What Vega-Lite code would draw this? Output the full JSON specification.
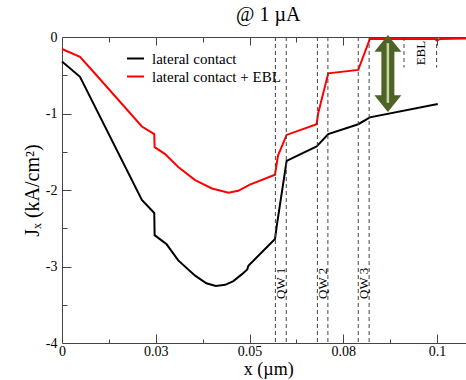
{
  "$schema": "https://vega.github.io/schema/vega-lite/v6.json",
  "width": 412.5,
  "height": 306,
  "autosize": "none",
  "padding": {"left": 62, "top": 37, "right": 0, "bottom": 37},
  "background": "white",
  "title": {"text": "@ 1 µA", "font": "Liberation Serif", "fontSize": 20, "fontWeight": "normal", "offset": 5, "anchor": "middle", "color": "#000"},
  "config": {
    "view": {"stroke": null},
    "font": "Liberation Serif",
    "axis": {"grid": false, "domainColor": "#444", "tickColor": "#444", "labelFont": "Liberation Serif", "labelFontSize": 14, "labelColor": "#000", "titleFont": "Liberation Serif", "titleFontSize": 20, "titleFontWeight": "normal", "titleColor": "#000", "labelOverlap": false}
  },
  "datasets": {
    "curves": [
      {"x": 0, "y": -0.32, "s": "lateral contact"},
      {"x": 0.0048, "y": -0.52, "s": "lateral contact"},
      {"x": 0.0213, "y": -2.13, "s": "lateral contact"},
      {"x": 0.0246, "y": -2.30, "s": "lateral contact"},
      {"x": 0.0247, "y": -2.59, "s": "lateral contact"},
      {"x": 0.0279, "y": -2.71, "s": "lateral contact"},
      {"x": 0.031, "y": -2.92, "s": "lateral contact"},
      {"x": 0.0355, "y": -3.12, "s": "lateral contact"},
      {"x": 0.0385, "y": -3.22, "s": "lateral contact"},
      {"x": 0.041, "y": -3.255, "s": "lateral contact"},
      {"x": 0.0435, "y": -3.24, "s": "lateral contact"},
      {"x": 0.0457, "y": -3.19, "s": "lateral contact"},
      {"x": 0.048, "y": -3.1, "s": "lateral contact"},
      {"x": 0.0494, "y": -3.04, "s": "lateral contact"},
      {"x": 0.0497, "y": -2.99, "s": "lateral contact"},
      {"x": 0.0568, "y": -2.64, "s": "lateral contact"},
      {"x": 0.0573, "y": -2.46, "s": "lateral contact"},
      {"x": 0.0599, "y": -1.62, "s": "lateral contact"},
      {"x": 0.0679, "y": -1.43, "s": "lateral contact"},
      {"x": 0.071, "y": -1.27, "s": "lateral contact"},
      {"x": 0.079, "y": -1.14, "s": "lateral contact"},
      {"x": 0.0821, "y": -1.05, "s": "lateral contact"},
      {"x": 0.1002, "y": -0.876, "s": "lateral contact"},
      {"x": 0, "y": -0.157, "s": "lateral contact + EBL"},
      {"x": 0.0048, "y": -0.26, "s": "lateral contact + EBL"},
      {"x": 0.0092, "y": -0.5, "s": "lateral contact + EBL"},
      {"x": 0.0213, "y": -1.17, "s": "lateral contact + EBL"},
      {"x": 0.0246, "y": -1.27, "s": "lateral contact + EBL"},
      {"x": 0.0247, "y": -1.44, "s": "lateral contact + EBL"},
      {"x": 0.0275, "y": -1.53, "s": "lateral contact + EBL"},
      {"x": 0.031, "y": -1.70, "s": "lateral contact + EBL"},
      {"x": 0.0355, "y": -1.87, "s": "lateral contact + EBL"},
      {"x": 0.040, "y": -1.98, "s": "lateral contact + EBL"},
      {"x": 0.0444, "y": -2.035, "s": "lateral contact + EBL"},
      {"x": 0.047, "y": -2.01, "s": "lateral contact + EBL"},
      {"x": 0.0501, "y": -1.93, "s": "lateral contact + EBL"},
      {"x": 0.0568, "y": -1.80, "s": "lateral contact + EBL"},
      {"x": 0.0576, "y": -1.55, "s": "lateral contact + EBL"},
      {"x": 0.0599, "y": -1.28, "s": "lateral contact + EBL"},
      {"x": 0.0679, "y": -1.14, "s": "lateral contact + EBL"},
      {"x": 0.0683, "y": -1.0, "s": "lateral contact + EBL"},
      {"x": 0.071, "y": -0.475, "s": "lateral contact + EBL"},
      {"x": 0.079, "y": -0.43, "s": "lateral contact + EBL"},
      {"x": 0.0821, "y": -0.025, "s": "lateral contact + EBL"},
      {"x": 0.0995, "y": -0.025, "s": "lateral contact + EBL"},
      {"x": 0.1, "y": -0.045, "s": "lateral contact + EBL"},
      {"x": 0.1008, "y": -0.025, "s": "lateral contact + EBL"},
      {"x": 0.11, "y": -0.02, "s": "lateral contact + EBL"}
    ],
    "qw": [
      {"x": 0.0569}, {"x": 0.0598}, {"x": 0.0681}, {"x": 0.0709}, {"x": 0.0790}, {"x": 0.0819}
    ],
    "ebl": [
      {"x": 0.0912}, {"x": 0.0999}
    ],
    "labels": [
      {"x": 0.0585, "y": -3.22, "label": "QW 1"},
      {"x": 0.0696, "y": -3.22, "label": "QW 2"},
      {"x": 0.0806, "y": -3.22, "label": "QW 3"},
      {"x": 0.0956, "y": -0.21, "label": "EBL"}
    ],
    "arrowHeads": [
      {"x": 0.0869, "y": -0.150, "end": "top"},
      {"x": 0.0869, "y": -0.804, "end": "bottom"}
    ],
    "arrowShaft": [
      {"x": 0.0869, "y": -0.17, "y2": -0.78}
    ],
    "arrowInner": [
      {"x": 0.0869, "y": -0.08, "y2": -0.86}
    ]
  },
  "resolve": {"axis": {"x": "independent", "y": "independent"}},
  "layer": [
    {
      "data": {"name": "curves"},
      "mark": {"type": "line", "strokeWidth": 2},
      "encoding": {
        "x": {"field": "x", "type": "quantitative", "scale": {"domain": [0, 0.11], "nice": false, "zero": false},
          "axis": {"orient": "bottom", "values": [0, 0.025, 0.05, 0.075, 0.1], "ticks": false, "labelFlush": false, "labelPadding": 1,
            "labelExpr": "datum.value < 0.01 ? '0' : datum.value < 0.03 ? '0.03' : datum.value < 0.06 ? '0.05' : datum.value < 0.09 ? '0.08' : '0.1'",
            "title": "x (µm)", "titlePadding": 2, "titleFontSize": 18}},
        "y": {"field": "y", "type": "quantitative", "scale": {"domain": [-4, 0], "nice": false, "zero": false},
          "axis": {"orient": "left", "values": [-4, -3, -2, -1, 0], "ticks": false, "labelFlush": false, "labelPadding": 5,
            "labelExpr": "'' + datum.value", "title": "Jₓ (kA/cm²)", "titlePadding": 3}},
        "color": {"field": "s", "type": "nominal",
          "scale": {"domain": ["lateral contact", "lateral contact + EBL"], "range": ["#000000", "#ff0000"]},
          "legend": {"title": null, "orient": "none", "legendX": 64, "legendY": 12, "padding": 0, "symbolType": "stroke", "symbolSize": 289, "symbolStrokeWidth": 2, "labelFont": "Liberation Serif", "labelFontSize": 15, "labelColor": "#000", "labelOffset": 7, "rowPadding": 0}},
        "detail": {"field": "s"}
      }
    },
    {
      "data": {"name": "qw"},
      "mark": {"type": "rule", "strokeDash": [4, 3], "strokeWidth": 1, "color": "#444"},
      "encoding": {
        "x": {"field": "x", "type": "quantitative", "axis": {"orient": "bottom", "values": [0.025, 0.05, 0.075, 0.1], "tickSize": -9, "labels": false, "domain": false, "title": null}},
        "y": {"datum": 0, "type": "quantitative", "axis": {"orient": "left", "values": [-3, -2, -1], "tickSize": -9, "labels": false, "domain": false, "title": null}},
        "y2": {"datum": -4}
      }
    },
    {
      "data": {"name": "ebl"},
      "mark": {"type": "rule", "strokeDash": [4, 3], "strokeWidth": 1, "color": "#444"},
      "encoding": {
        "x": {"field": "x", "type": "quantitative", "axis": {"orient": "bottom", "values": [0.0125, 0.0375, 0.0625, 0.0875], "tickSize": -4, "labels": false, "domain": false, "title": null}},
        "y": {"datum": 0, "type": "quantitative", "axis": {"orient": "left", "values": [-3.5, -2.5, -1.5, -0.5], "tickSize": -5, "labels": false, "domain": false, "title": null}},
        "y2": {"datum": -0.4}
      }
    },
    {
      "data": {"name": "labels"},
      "mark": {"type": "text", "angle": 270, "align": "center", "baseline": "middle", "font": "Liberation Serif", "fontSize": 13, "color": "#000"},
      "encoding": {
        "x": {"field": "x", "type": "quantitative", "axis": {"orient": "top", "values": [0.025, 0.05, 0.075, 0.1], "tickSize": -8, "labels": false, "domain": true, "title": null}},
        "y": {"field": "y", "type": "quantitative", "axis": null},
        "text": {"field": "label"}
      }
    },
    {
      "data": {"name": "arrowShaft"},
      "mark": {"type": "rule", "strokeWidth": 13, "color": "#4f6228", "strokeCap": "butt"},
      "encoding": {
        "x": {"field": "x", "type": "quantitative", "axis": {"orient": "top", "values": [0.0125, 0.0375, 0.0625, 0.0875], "tickSize": -5, "labels": false, "domain": false, "title": null}},
        "y": {"field": "y", "type": "quantitative", "axis": null},
        "y2": {"field": "y2"}
      }
    },
    {
      "data": {"name": "arrowHeads"},
      "mark": {"type": "point", "filled": true, "opacity": 1, "size": 729, "color": "#4f6228", "strokeWidth": 0},
      "encoding": {
        "x": {"field": "x", "type": "quantitative", "axis": null},
        "y": {"field": "y", "type": "quantitative", "axis": null},
        "shape": {"field": "end", "type": "nominal", "scale": {"domain": ["top", "bottom"], "range": ["M 0 -1 L 1 0.25 L -1 0.25 Z", "M 0 1 L 1 -0.25 L -1 -0.25 Z"]}, "legend": null}
      }
    },
    {
      "data": {"name": "arrowInner"},
      "mark": {"type": "rule", "strokeWidth": 2.5, "color": "#c4d79b", "strokeCap": "butt"},
      "encoding": {
        "x": {"field": "x", "type": "quantitative", "axis": null},
        "y": {"field": "y", "type": "quantitative", "axis": null},
        "y2": {"field": "y2"}
      }
    }
  ]
}
